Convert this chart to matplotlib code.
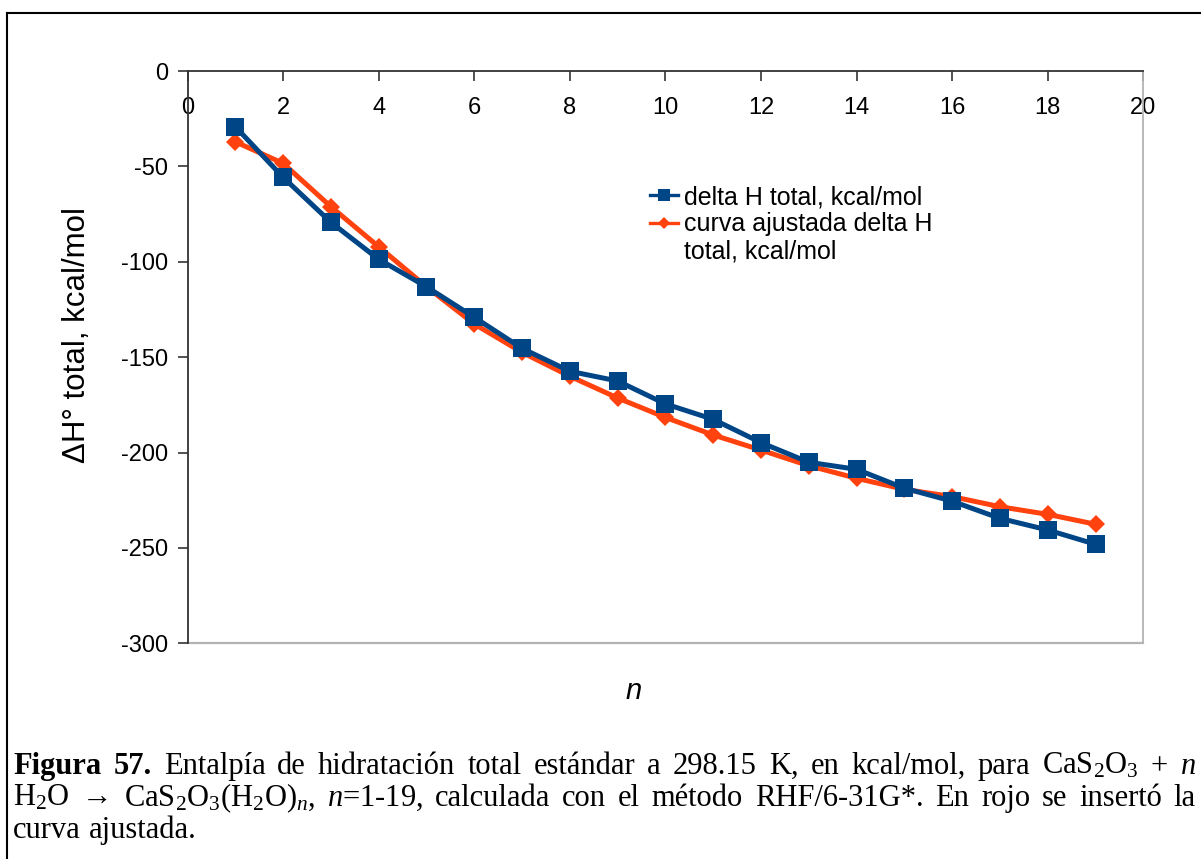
import matplotlib
matplotlib.use("Agg")
import matplotlib.pyplot as plt
from matplotlib.lines import Line2D

plt.rcParams["font.family"] = ["Liberation Sans", "DejaVu Sans"]
plt.rcParams["axes.unicode_minus"] = False
plt.rcParams["mathtext.fontset"] = "custom"
plt.rcParams["mathtext.rm"] = "Liberation Serif"
plt.rcParams["mathtext.it"] = "Liberation Serif:italic"
plt.rcParams["mathtext.bf"] = "Liberation Serif:bold"

# Number of water molecules
n = list(range(1, 20))
# Total hydration enthalpy (kcal/mol), RHF/6-31G*
dh_total = [-29.2, -55.7, -79.3, -98.7, -113.1, -129.1, -145.4, -157.4, -162.5,
            -174.5, -182.6, -194.8, -205.1, -208.8, -218.7, -225.5, -234.5,
            -240.6, -248.1]
# Fitted curve
dh_fit = [-37.1, -48.4, -71.1, -92.1, -113.1, -132.6, -147.5, -160.0, -171.4,
          -181.6, -190.8, -198.7, -206.9, -213.5, -219.3, -223.1, -228.4,
          -232.4, -237.6]

x_ticks = list(range(0, 21, 2))
y_ticks = list(range(-300, 1, 50))
label_data = "delta H total, kcal/mol"
label_fit = ["curva ajustada delta H", "total, kcal/mol"]

BLUE = "#004586"
ORANGE = "#ff420e"

W, H = 1201, 859
fig = plt.figure(figsize=(W / 100, H / 100), dpi=100)

# plot area in pixel coordinates
x0, x1, ytop, ybot = 187.5, 1143.3, 71.0, 643.3
ax = fig.add_axes([x0 / W, 1 - ybot / H, (x1 - x0) / W, (ybot - ytop) / H])

ax.plot(n, dh_fit, color=ORANGE, lw=3.6, marker="D", ms=9.5, mew=0,
        zorder=3, solid_joinstyle="miter")
ax.plot(n, dh_total, color=BLUE, lw=3.6, marker="s", ms=13.5, mew=0,
        zorder=4, solid_joinstyle="miter")

ax.set_xlim(0, 20)
ax.set_ylim(-300, 0)
ax.set_xticks(x_ticks)
ax.set_yticks(y_ticks)
ax.set_xticklabels([str(v) for v in x_ticks])
ax.set_yticklabels([str(v) for v in y_ticks])

# x axis drawn along y = 0 at the top of the plot area
ax.spines["bottom"].set_position(("data", 0))
ax.spines["bottom"].set_color("#333333")
ax.spines["bottom"].set_linewidth(1.3)
ax.spines["left"].set_color("#333333")
ax.spines["left"].set_linewidth(1.3)
ax.spines["top"].set_visible(False)
ax.spines["right"].set_color("#b3b3b3")
ax.spines["right"].set_linewidth(1.3)
ax.axhline(-300, color="#b3b3b3", lw=1.6, zorder=1, clip_on=False)

ax.tick_params(axis="x", direction="out", length=7.5, width=1.2, color="#333333",
               pad=11.5, labelsize=17)
ax.tick_params(axis="y", direction="out", length=7.5, width=1.2, color="#333333",
               pad=6.5, labelsize=17)

fig.text(77 / W, 1 - 335 / H, "ΔH° total, kcal/mol", rotation=90,
         ha="center", va="center", fontsize=22.5)
fig.text(634 / W, 1 - 691 / H, "n", style="italic", ha="center", va="center",
         fontsize=21)

handles = [
    Line2D([], [], color=BLUE, lw=2.4, marker="s", ms=8, mew=0),
    Line2D([], [], color=ORANGE, lw=2.4, marker="D", ms=6.5, mew=0),
    Line2D([], [], linestyle="none"),
]
ax.legend(handles, [label_data] + label_fit, loc="upper left",
          bbox_to_anchor=(650 / W, 1 - 185 / H), bbox_transform=fig.transFigure,
          frameon=False, fontsize=18, handlelength=1.1, handletextpad=0.26,
          labelspacing=0.14, borderpad=0, borderaxespad=0)

# outer frame of the figure block
fig.add_artist(Line2D([7 / W, 1.0], [1 - 13 / H, 1 - 13 / H], color="black",
                      lw=1.5, transform=fig.transFigure))
fig.add_artist(Line2D([7 / W, 7 / W], [1 - 13 / H, 0.0], color="black",
                      lw=1.5, transform=fig.transFigure))

# justified caption
cap_size = 22
serif = ["Liberation Serif", "DejaVu Serif"]
caption_lines = [
    [("Figura", "bold"), ("57.", "bold"), ("Entalpía", None), ("de", None),
     ("hidratación", None), ("total", None), ("estándar", None), ("a", None),
     ("298.15", None), ("K,", None), ("en", None), ("kcal/mol,", None),
     ("para", None), (r"$\mathrm{CaS_2O_3}$", None), ("+", None), ("$n$", None)],
    [(r"$\mathrm{H_2O}$", None), ("→", None),
     (r"$\mathrm{CaS_2O_3(H_2O)}_n$,", None), ("$n$=1-19,", None),
     ("calculada", None), ("con", None), ("el", None), ("método", None),
     ("RHF/6-31G*.", None), ("En", None), ("rojo", None), ("se", None),
     ("insertó", None), ("la", None)],
    [("curva", None), ("ajustada.", None)],
]
left_px, right_px = 13.0, 1196.0
baselines = [774.0, 806.0, 838.0]

fig.canvas.draw()
renderer = fig.canvas.get_renderer()
space_px = 0.25 * cap_size * 100 / 72
for li, (tokens, base) in enumerate(zip(caption_lines, baselines)):
    texts = []
    for s, weight in tokens:
        t = fig.text(0, 1 - base / H, s, family=serif, fontsize=cap_size,
                     fontweight=weight or "normal", ha="left", va="baseline")
        texts.append(t)
    widths = [t.get_window_extent(renderer).width for t in texts]
    if li < len(caption_lines) - 1:
        gap = (right_px - left_px - sum(widths)) / (len(texts) - 1)
    else:
        gap = space_px
    xpos = left_px
    for t, w in zip(texts, widths):
        t.set_x(xpos / W)
        xpos += w + gap

fig.savefig("out.png", dpi=100)
